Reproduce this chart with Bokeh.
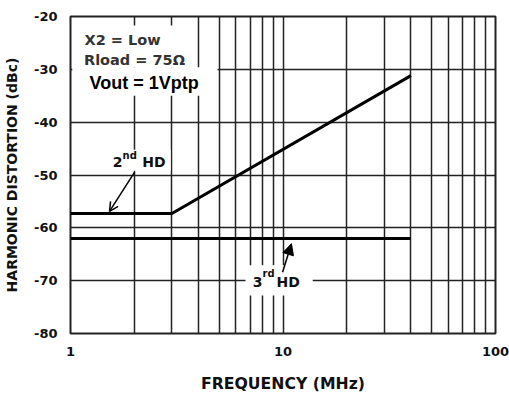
from bokeh.plotting import figure
from bokeh.models import (FixedTicker, Label, BoxAnnotation, Arrow, NormalHead, OpenHead)
from bokeh.embed import file_html
from bokeh.resources import INLINE

# ---- data ----
hd2_freq = [1, 3, 40]
hd2_dbc = [-57.3, -57.3, -31.2]
hd3_freq = [1, 40]
hd3_dbc = [-62.0, -62.0]
x_ticks = [1, 10, 100]
x_tick_labels = ["1", "10", "100"]
y_ticks = [-80, -70, -60, -50, -40, -30, -20]
y_tick_labels = ["-80", "-70", "-60", "-50", "-40", "-30", "-20"]
x_grid = [1, 2, 3, 4, 5, 6, 7, 8, 9, 10, 20, 30, 40, 50, 60, 70, 80, 90, 100]

FONT = "DejaVu Sans"
INK = "#111111"

p = figure(width=509, height=396, x_axis_type="log", x_range=(1, 100), y_range=(-80, -20),
           output_backend="svg", toolbar_location=None,
           min_border_left=70, min_border_right=14, min_border_top=16, min_border_bottom=63)
p.background_fill_color = "white"
p.border_fill_color = "white"
p.outline_line_color = "#222222"
p.outline_line_width = 2

# grid
p.xgrid.ticker = FixedTicker(ticks=x_grid)
p.ygrid.ticker = FixedTicker(ticks=y_ticks)
for g in (p.xgrid, p.ygrid):
    g.grid_line_color = "#222222"
    g.grid_line_width = 1.5
    g.grid_line_alpha = 1.0
p.xgrid.minor_grid_line_color = None

# axes
p.xaxis.ticker = FixedTicker(ticks=x_ticks)
p.xaxis.major_label_overrides = {float(t): s for t, s in zip(x_ticks, x_tick_labels)}
p.yaxis.ticker = FixedTicker(ticks=y_ticks)
p.yaxis.major_label_overrides = {float(t): s for t, s in zip(y_ticks, y_tick_labels)}
for ax in (p.xaxis, p.yaxis):
    ax.axis_line_color = None
    ax.major_tick_line_color = None
    ax.minor_tick_line_color = None
    ax.major_label_text_font = FONT
    ax.major_label_text_font_style = "bold"
    ax.major_label_text_font_size = "13px"
    ax.major_label_text_color = INK
    ax.axis_label_text_font = FONT
    ax.axis_label_text_font_style = "bold"
    ax.axis_label_text_color = INK
p.xaxis.major_label_standoff = 7
p.yaxis.major_label_standoff = 7
p.xaxis.axis_label = "FREQUENCY (MHz)"
p.xaxis.axis_label_text_font_size = "15.7px"
p.xaxis.axis_label_standoff = 15
p.yaxis.axis_label = "HARMONIC DISTORTION (dBc)"
p.yaxis.axis_label_text_font_size = "14px"
p.yaxis.axis_label_standoff = 11

# data lines
p.line(hd2_freq, hd2_dbc, line_color="black", line_width=3)
p.line(hd3_freq, hd3_dbc, line_color="black", line_width=3)

# white boxes behind annotations
for l, r, t, b in [(1.02, 3.87, -21.7, -29.6), (1.02, 4.92, -29.6, -35.0),
                   (1.54, 2.96, -45.2, -49.2), (6.66, 13.8, -67.1, -72.8)]:
    p.add_layout(BoxAnnotation(left=l, right=r, top=t, bottom=b, fill_color="white",
                               fill_alpha=1.0, line_color=None))

def lab(x, y, text, size, align="center", color=INK, font=FONT):
    p.add_layout(Label(x=x, y=y, text=text, text_font=font, text_font_style="bold",
                       text_font_size=size, text_align=align, text_baseline="middle",
                       text_color=color))

lab(1.757, -24.5, "X2 = Low", "14.5px", color="#333333")
lab(2.0, -28.3, "Rload = 75Ω", "14.5px", color="#333333")
lab(2.22, -32.5, "Vout = 1Vptp", "18px", color="black", font="Liberation Sans")

# 2nd HD
lab(1.757, -47.45, "2", "14px", align="right")
lab(1.757, -46.3, "nd", "10px", align="left")
lab(2.175, -47.45, "HD", "14px", align="left")
p.add_layout(Arrow(x_start=2.0, y_start=-49.5, x_end=1.526, y_end=-56.9,
                   line_color="black", line_width=1.5,
                   end=OpenHead(size=9, line_color="black", line_width=1.5)))

# 3rd HD
lab(8.01, -70.2, "3", "14px", align="right")
lab(8.01, -68.6, "rd", "10px", align="left")
lab(9.32, -70.2, "HD", "14px", align="left")
p.add_layout(Arrow(x_start=9.95, y_start=-68.4, x_end=10.96, y_end=-63.0,
                   line_color="black", line_width=1.5,
                   end=NormalHead(size=11, fill_color="black", line_color="black")))

open("out.html", "w").write(file_html(p, INLINE))
